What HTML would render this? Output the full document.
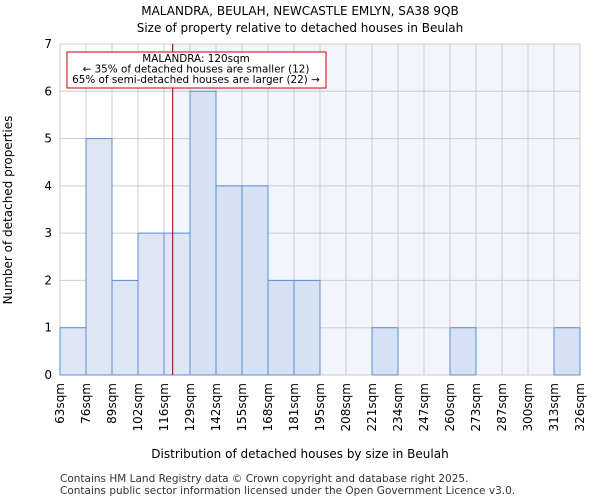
<!DOCTYPE html>
<html><head><meta charset="utf-8"><style>
body{margin:0;background:#fff;font-family:"DejaVu Sans","Liberation Sans",sans-serif}
</style></head><body>
<svg width="600" height="500" xmlns="http://www.w3.org/2000/svg" font-family="DejaVu Sans, Liberation Sans, sans-serif">
<text x="300" y="15" text-anchor="middle" font-size="12">MALANDRA, BEULAH, NEWCASTLE EMLYN, SA38 9QB</text>
<text x="300" y="32" text-anchor="middle" font-size="12">Size of property relative to detached houses in Beulah</text>
<g id="plot"></g>
<text x="300" y="458" text-anchor="middle" font-size="12">Distribution of detached houses by size in Beulah</text>
<text x="12" y="210" text-anchor="middle" font-size="12" transform="rotate(-90 12 210)">Number of detached properties</text>
<text x="60" y="482" font-size="10.5" fill="#333">Contains HM Land Registry data © Crown copyright and database right 2025.</text>
<text x="60" y="494" font-size="10.5" fill="#333">Contains public sector information licensed under the Open Government Licence v3.0.</text>
</svg>
<script>
const tickLabels=["63sqm","76sqm","89sqm","102sqm","116sqm","129sqm","142sqm","155sqm","168sqm","181sqm","195sqm","208sqm","221sqm","234sqm","247sqm","260sqm","273sqm","287sqm","300sqm","313sqm","326sqm"];
const binStarts=[63,76,89,102,116,129,142,155,168,181,195,208,221,234,247,260,273,287,300,313];
const counts=[1,5,2,3,3,6,4,4,2,2,0,0,1,0,0,1,0,0,0,1];
const yTicks=[0,1,2,3,4,5,6,7];
const propertySize=120;
const xMin=63,xMax=326;
const L=60,R=580,T=44,B=375;
const ns="http://www.w3.org/2000/svg";
const g=document.getElementById('plot');
const xs=v=>L+(v-xMin)/(xMax-xMin)*(R-L);
const xi=i=>L+i*(R-L)/binStarts.length;
const ys=v=>B-v/7*(B-T);
function mk(t,a){const e=document.createElementNS(ns,t);for(const k in a)e.setAttribute(k,a[k]);g.appendChild(e);return e;}
const px=xs(propertySize);
let e=mk('rect',{x:L,y:T,width:R-L,height:B-T,fill:'#fff'});


e=mk('rect',{x:px,y:T,width:R-px,height:B-T,fill:'#f2f5fc'});


for(let i=0;i<=binStarts.length;i++){e=mk('line',{x1:xi(i),x2:xi(i),y1:T,y2:B,stroke:'#ccc','stroke-width':1});

}
yTicks.forEach(t=>{e=mk('line',{x1:L,x2:R,y1:ys(t),y2:ys(t),stroke:'#ccc','stroke-width':1});


e=mk('text',{x:L-8,y:ys(t)+4,'text-anchor':'end','font-size':12});e.textContent=t;

});
counts.forEach((c,i)=>{if(!c)return;const x0=xi(i);e=mk('rect',{x:x0,y:ys(c),width:xi(i+1)-x0,height:B-ys(c),fill:x0<px?'#dde6f4':'#d6e1f3',stroke:'#5b8fd6','stroke-width':1});

});
tickLabels.forEach((t,i)=>{const x=xi(i)+4;e=mk('text',{x:x,y:B+8,'text-anchor':'end','font-size':12,transform:`rotate(-90 ${x} ${B+8})`});e.textContent=t;

});
e=mk('line',{x1:px,x2:px,y1:T,y2:B,stroke:'#8b0000',"stroke-width":1});


e=mk('rect',{x:67,y:52,width:259,height:36,fill:'#fff',stroke:'#c00','stroke-width':1});


[["MALANDRA: 120sqm",62],["← 35% of detached houses are smaller (12)",72.5],["65% of semi-detached houses are larger (22) →",83]].forEach(([s,y])=>{e=mk('text',{x:196,y:y,'text-anchor':'middle','font-size':10.4});e.textContent=s;

});
</script>
</body></html>
